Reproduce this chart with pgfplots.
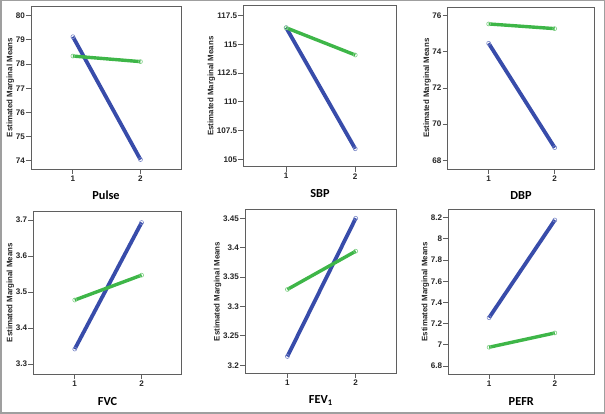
\documentclass[border=0pt]{standalone}
\usepackage{pgfplots}
\pgfplotsset{compat=1.18}
\usepackage{fontspec}
\setmainfont{Liberation Sans}
\newfontfamily\titlefont{Carlito}
\definecolor{pblue}{RGB}{56,76,170}
\definecolor{pgreen}{RGB}{62,182,72}
\definecolor{framec}{RGB}{95,95,95}
\pgfplotsset{
  panel/.style={
    scale only axis, anchor=north west,
    xmin=0.38, xmax=2.6, xtick={1,2}, xticklabels={1,2},
    xtick pos=bottom, ytick pos=left, tick align=outside,
    major tick length=5pt,
    axis line style={framec, line width=0.9pt},
    tick style={framec, line width=0.8pt},
    tick label style={font=\bfseries\fontsize{8.1}{9}\selectfont, text=black!85},
    yticklabel style={inner sep=1pt},
    xticklabel style={inner sep=1.5pt},
    ylabel={Estimated Marginal Means},
    ylabel style={font=\bfseries\fontsize{7.9}{9}\selectfont, inner sep=0.5pt, text=black!85},
    xlabel style={font=\titlefont\bfseries\fontsize{12.3}{13}\selectfont, at={(axis description cs:0.5,0)}, anchor=center},
  },
  bl/.style={pblue, line width=3.8pt, mark=o, mark size=2pt, mark options={line width=0.6pt, draw=pblue!65, fill=white}},
  gr/.style={pgreen, line width=3.4pt, mark=o, mark size=2pt, mark options={line width=0.6pt, draw=pgreen!65, fill=white}},
}
\begin{document}
\begin{tikzpicture}
\path[use as bounding box] (0,0) rectangle (605pt,414pt);
\draw[gray!75, line width=1.5pt] (0.75pt,0.75pt) rectangle (604.25pt,413.25pt);

% Pulse
\begin{axis}[panel, at={(31pt,408pt)}, width=150pt, height=163pt,
  ymin=73.66, ymax=80.40, ytick={74,75,76,77,78,79,80}, yticklabels={74,75,76,77,78,79,80},
  xlabel={Pulse}, xlabel style={yshift=-26.7pt}]
\addplot[bl] coordinates {(1,79.13) (2,74.05)};
\addplot[gr] coordinates {(1,78.33) (2,78.10)};
\end{axis}

% SBP
\begin{axis}[panel, at={(243.3pt,408.3pt)}, width=153.4pt, height=161pt,
  ymin=104.36, ymax=118.37, ytick={105,107.5,110,112.5,115,117.5}, yticklabels={105,107.5,110,112.5,115,117.5},
  xlabel={SBP}, xlabel style={yshift=-26.7pt}]
\addplot[bl] coordinates {(1,116.46) (2,105.92)};
\addplot[gr] coordinates {(1,116.45) (2,114.08)};
\end{axis}

% DBP
\begin{axis}[panel, at={(447.7pt,406.7pt)}, width=146.6pt, height=161.7pt,
  ymin=67.52, ymax=76.46, ytick={68,70,72,74,76}, yticklabels={68,70,72,74,76},
  xlabel={DBP}, xlabel style={yshift=-26.7pt}]
\addplot[bl] coordinates {(1,74.47) (2,68.70)};
\addplot[gr] coordinates {(1,75.54) (2,75.28)};
\end{axis}

% FVC
\begin{axis}[panel, at={(33.3pt,203pt)}, width=148.4pt, height=163.3pt,
  ymin=3.272, ymax=3.725, ytick={3.3,3.4,3.5,3.6,3.7}, yticklabels={3.3,3.4,3.5,3.6,3.7},
  xlabel={FVC}, xlabel style={yshift=-27.5pt}]
\addplot[bl] coordinates {(1,3.342) (2,3.693)};
\addplot[gr] coordinates {(1,3.478) (2,3.547)};
\end{axis}

% FEV1
\begin{axis}[panel, at={(245pt,204.3pt)}, width=151.7pt, height=163.6pt,
  ymin=3.1864, ymax=3.4646, ytick={3.2,3.25,3.3,3.35,3.4,3.45}, yticklabels={3.2,3.25,3.3,3.35,3.4,3.45},
  xlabel={FEV\textsubscript{1}}, xlabel style={yshift=-27.5pt}]
\addplot[bl] coordinates {(1,3.215) (2,3.450)};
\addplot[gr] coordinates {(1,3.329) (2,3.394)};
\end{axis}

% PEFR
\begin{axis}[panel, at={(448.3pt,204.3pt)}, width=146pt, height=164.3pt,
  ymin=6.7245, ymax=8.2755, ytick={6.8,7,7.2,7.4,7.6,7.8,8,8.2}, yticklabels={6.8,7,7.2,7.4,7.6,7.8,8,8.2},
  xlabel={PEFR}, xlabel style={yshift=-27.5pt}]
\addplot[bl] coordinates {(1,7.256) (2,8.178)};
\addplot[gr] coordinates {(1,6.977) (2,7.112)};
\end{axis}
\end{tikzpicture}
\end{document}
